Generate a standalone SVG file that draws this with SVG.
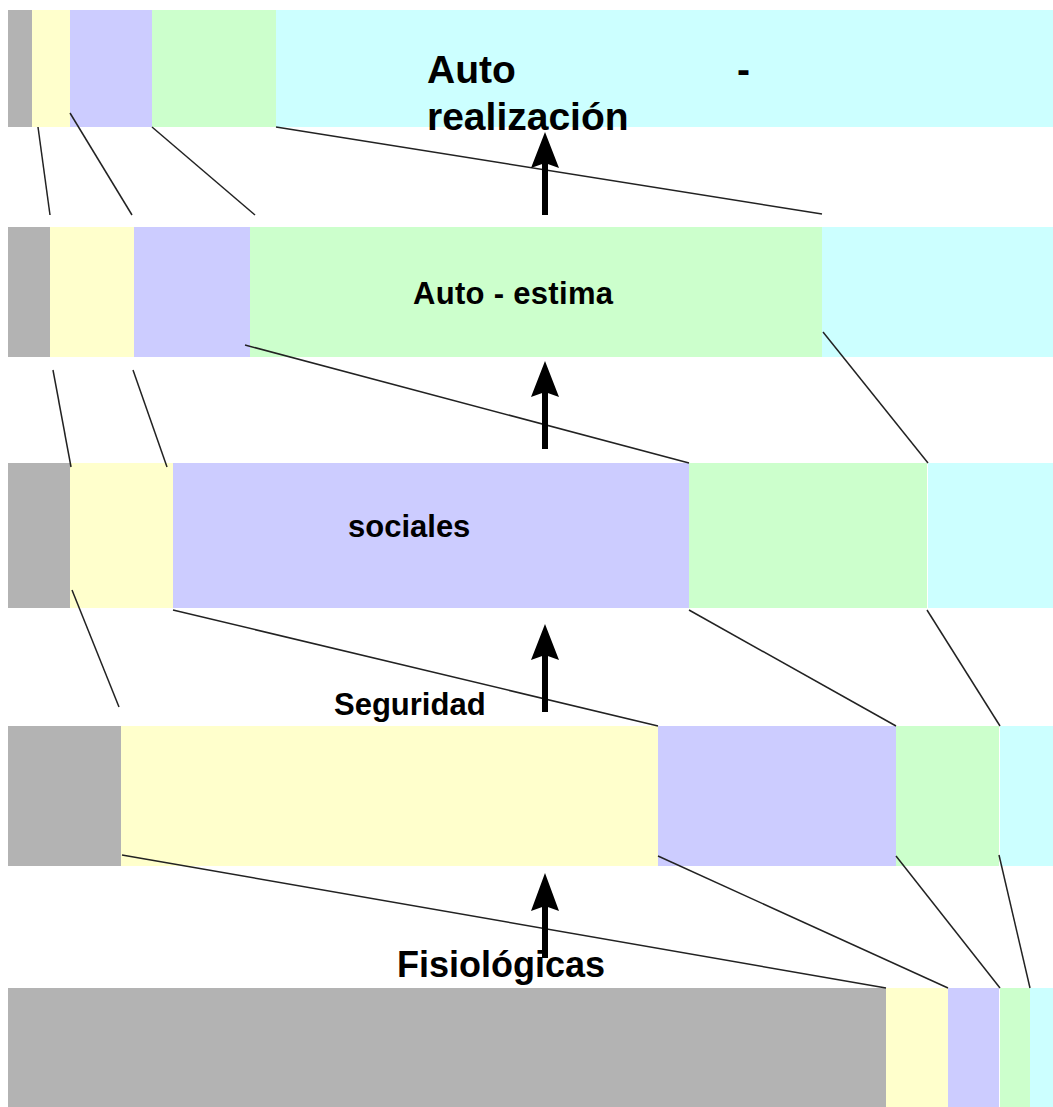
<svg xmlns="http://www.w3.org/2000/svg" width="1053" height="1107" viewBox="0 0 1053 1107">
<defs>
<style>
.g{fill:#b3b3b3}.y{fill:#ffffcc}.p{fill:#ccccff}.gr{fill:#ccffcc}.c{fill:#ccffff}
.ln{stroke:#222;stroke-width:1.5;fill:none}
.t{font-family:"Liberation Sans",Arial,sans-serif;font-weight:bold;fill:#000}
.sh{stroke:#000;stroke-width:6}
</style>
</defs>
<rect width="1053" height="1107" fill="#fff"/>
<g id="row1">
<rect class="g" x="8" y="10" width="24" height="117"/>
<rect class="y" x="32" y="10" width="38" height="117"/>
<rect class="p" x="70" y="10" width="82" height="117"/>
<rect class="gr" x="152" y="10" width="124" height="117"/>
<rect class="c" x="276" y="10" width="777" height="117"/>
</g>
<g id="row2">
<rect class="g" x="8" y="227" width="42" height="130"/>
<rect class="y" x="50" y="227" width="84" height="130"/>
<rect class="p" x="134" y="227" width="116" height="130"/>
<rect class="gr" x="250" y="227" width="572" height="130"/>
<rect class="c" x="822" y="227" width="231" height="130"/>
</g>
<g id="row3">
<rect class="g" x="8" y="463" width="62" height="145"/>
<rect class="y" x="70" y="463" width="103" height="145"/>
<rect class="p" x="173" y="463" width="516" height="145"/>
<rect class="gr" x="689" y="463" width="238" height="145"/>
<rect class="c" x="928" y="463" width="125" height="145"/>
</g>
<g id="row4">
<rect class="g" x="8" y="726" width="113" height="140"/>
<rect class="y" x="121" y="726" width="537" height="140"/>
<rect class="p" x="658" y="726" width="238" height="140"/>
<rect class="gr" x="896" y="726" width="103" height="140"/>
<rect class="c" x="1000" y="726" width="53" height="140"/>
</g>
<g id="row5">
<rect class="g" x="8" y="988" width="878" height="119"/>
<rect class="y" x="886" y="988" width="62" height="119"/>
<rect class="p" x="948" y="988" width="51" height="119"/>
<rect class="gr" x="1000" y="988" width="30" height="119"/>
<rect class="c" x="1030" y="988" width="23" height="119"/>
</g>
<g id="connectors">
<line class="ln" x1="38" y1="127" x2="50" y2="215"/>
<line class="ln" x1="70" y1="113" x2="132" y2="215"/>
<line class="ln" x1="152" y1="127" x2="255" y2="215"/>
<line class="ln" x1="276" y1="127" x2="822" y2="214"/>
<line class="ln" x1="53" y1="370" x2="71" y2="467"/>
<line class="ln" x1="133" y1="370" x2="167" y2="467"/>
<line class="ln" x1="245" y1="345" x2="689" y2="463"/>
<line class="ln" x1="823" y1="332" x2="928" y2="463"/>
<line class="ln" x1="72" y1="590" x2="119" y2="707"/>
<line class="ln" x1="173" y1="610" x2="658" y2="726"/>
<line class="ln" x1="689" y1="610" x2="896" y2="726"/>
<line class="ln" x1="927" y1="610" x2="1000" y2="726"/>
<line class="ln" x1="122" y1="855" x2="886" y2="988"/>
<line class="ln" x1="658" y1="856" x2="948" y2="988"/>
<line class="ln" x1="896" y1="856" x2="1000" y2="988"/>
<line class="ln" x1="999" y1="855" x2="1030" y2="988"/>
<line class="sh" x1="545" y1="215" x2="545" y2="160"/>
<polygon points="545,132 531,168 545,163 559,168"/>
<line class="sh" x1="545" y1="449" x2="545" y2="390"/>
<polygon points="545,361 531,397 545,392 559,397"/>
<line class="sh" x1="545" y1="712" x2="545" y2="653"/>
<polygon points="545,624 531,660 545,655 559,660"/>
<line class="sh" x1="545" y1="958" x2="545" y2="900"/>
<polygon points="545,873 531,911 545,906 559,911"/>
</g>
<g id="labels">
<text class="t" font-size="39"><tspan x="427" y="83">Auto</tspan><tspan x="737" y="83">-</tspan><tspan x="427" y="130">realización</tspan></text>
<text class="t" font-size="31" x="413" y="304" textLength="200">Auto - estima</text>
<text class="t" font-size="31" x="348" y="537">sociales</text>
<text class="t" font-size="31" x="334" y="715">Seguridad</text>
<text class="t" font-size="36" x="397" y="977">Fisiológicas</text>
</g>
</svg>
